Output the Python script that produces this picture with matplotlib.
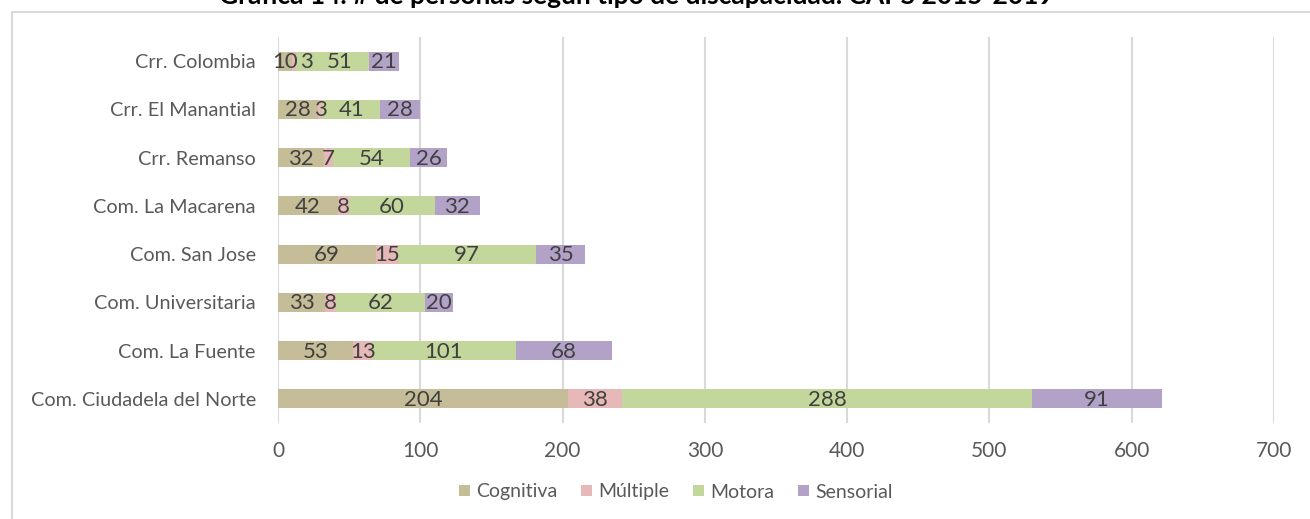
import matplotlib
matplotlib.use("Agg")
import matplotlib.pyplot as plt
from matplotlib.lines import Line2D
from matplotlib.patches import Patch
from matplotlib.transforms import offset_copy
import numpy as np

plt.rcParams['font.family'] = ['Lato', 'DejaVu Sans']

categories = ["Crr. Colombia", "Crr. El Manantial", "Crr. Remanso", "Com. La Macarena",
              "Com. San Jose", "Com. Universitaria", "Com. La Fuente", "Com. Ciudadela del Norte"]
series_names = ["Cognitiva", "Múltiple", "Motora", "Sensorial"]
cognitiva = [10, 28, 32, 42, 69, 33, 53, 204]
multiple = [3, 3, 7, 8, 15, 8, 13, 38]
motora = [51, 41, 54, 60, 97, 62, 101, 288]
sensorial = [21, 28, 26, 32, 35, 20, 68, 91]
colors = ["#C4BD97", "#E6B9B8", "#C3D69B", "#B3A2C7"]
xticks = [0, 100, 200, 300, 400, 500, 600, 700]
title = "Gráfica 14. # de personas según tipo de discapacidad. CAPS 2015-2019"

# label nudges in pixels (series index, category index) -> dx, as in reference
label_nudge = {(1, 0): 12, (2, 0): 7}

W, H = 1310, 519
fig = plt.figure(figsize=(W / 100, H / 100), dpi=100)
ax = fig.add_axes([278 / W, 1 - 423 / H, (1274 - 278) / W, (423 - 37) / H])

n = len(categories)
ypos = np.arange(n)[::-1]  # first category at top
left = np.zeros(n)
for si, (name, vals, col) in enumerate(zip(series_names, [cognitiva, multiple, motora, sensorial], colors)):
    vals = np.array(vals, dtype=float)
    bars = ax.barh(ypos, vals, left=left, height=0.39, color=col, label=name, zorder=3)
    for ci, (b, v) in enumerate(zip(bars, vals)):
        dx = label_nudge.get((si, ci), 0)
        tr = offset_copy(ax.transData, fig=fig, x=dx, y=0, units='dots')
        ax.text(b.get_x() + b.get_width() / 2, b.get_y() + b.get_height() / 2 - 0.02, f"{int(v)}",
                ha='center', va='center', fontsize=16, color='#404040', zorder=4, transform=tr)
    left += vals

ax.set_xlim(0, 700)
ax.set_ylim(-0.5, n - 0.5)
ax.set_xticks(xticks)
ax.set_xticklabels([str(t) for t in xticks])
ax.set_yticks(ypos)
ax.set_yticklabels(categories)
ax.tick_params(axis='both', length=0, colors='#595959')
ax.tick_params(axis='x', pad=13, labelsize=15)
ax.tick_params(axis='y', pad=16, labelsize=14.3)
ax.grid(axis='x', color='#D9D9D9', linewidth=1.5, zorder=0)
for s in ax.spines.values():
    s.set_visible(False)

handles = [Patch(facecolor=c, edgecolor='none') for c in colors]
fig.legend(handles, series_names, loc='center', bbox_to_anchor=(676 / W, 1 - 492 / H),
           ncol=4, frameon=False, fontsize=14, labelcolor='#595959',
           handlelength=0.55, handleheight=0.55, handletextpad=0.35, columnspacing=1.2)

# outer border (top and left)
fig.add_artist(Line2D([12 / W, 1], [1 - 12 / H, 1 - 12 / H], color='#D9D9D9', linewidth=1.5,
                      transform=fig.transFigure))
fig.add_artist(Line2D([12 / W, 12 / W], [0, 1 - 12 / H], color='#D9D9D9', linewidth=1.5,
                      transform=fig.transFigure))

fig.text(636 / W, 1 - 4 / H, title, ha='center', va='baseline', fontsize=19,
         fontweight='bold', color='black')

fig.savefig("out.png", dpi=100)
